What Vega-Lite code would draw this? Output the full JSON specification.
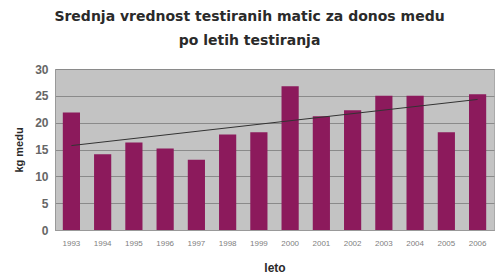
{
  "$schema": "https://vega.github.io/schema/vega-lite/v6.json",
  "width": 439,
  "height": 161,
  "autosize": {"type": "none"},
  "padding": {"left": 55, "top": 69, "right": 2, "bottom": 45},
  "background": "white",
  "title": {
    "text": ["Srednja vrednost testiranih matic za donos medu", "po letih testiranja"],
    "font": "DejaVu Sans",
    "fontSize": 14,
    "fontWeight": "bold",
    "color": "#2a2a2a",
    "lineHeight": 24,
    "anchor": "middle",
    "dx": -25,
    "offset": 15
  },
  "config": {
    "view": {"fill": "#c3c3c3", "stroke": "#aaaaaa"},
    "axis": {"labelFont": "Liberation Sans", "titleFont": "Liberation Sans"}
  },
  "data": {
    "values": [
      {"leto": 1993, "kg": 21.9},
      {"leto": 1994, "kg": 14.1},
      {"leto": 1995, "kg": 16.3},
      {"leto": 1996, "kg": 15.2},
      {"leto": 1997, "kg": 13.1},
      {"leto": 1998, "kg": 17.8},
      {"leto": 1999, "kg": 18.2},
      {"leto": 2000, "kg": 26.8},
      {"leto": 2001, "kg": 21.2},
      {"leto": 2002, "kg": 22.3},
      {"leto": 2003, "kg": 25.0},
      {"leto": 2004, "kg": 25.0},
      {"leto": 2005, "kg": 18.2},
      {"leto": 2006, "kg": 25.3}
    ]
  },
  "encoding": {
    "x": {
      "field": "leto", "type": "ordinal",
      "scale": {"paddingInner": 0.45, "paddingOuter": 0.25},
      "axis": {
        "title": "leto", "titleFontSize": 12, "titleFontWeight": "bold", "titleColor": "#2a2a2a",
        "titlePadding": 15,
        "labelAngle": 0, "labelFontSize": 8, "labelColor": "#808080", "labelPadding": 9,
        "ticks": false, "domainColor": "#999"
      }
    },
    "y": {
      "field": "kg", "type": "quantitative",
      "scale": {"domain": [0, 30]},
      "axis": {
        "title": "kg medu", "titleFontSize": 11, "titleFontWeight": "bold", "titleColor": "#2a2a2a",
        "titlePadding": 10,
        "values": [0, 5, 10, 15, 20, 25, 30],
        "labelFontSize": 12, "labelFontWeight": "bold", "labelColor": "#666", "labelPadding": 7,
        "labelOverlap": false,
        "ticks": false, "domainColor": "#999",
        "gridColor": "#8a8a8a", "gridWidth": 1
      }
    }
  },
  "layer": [
    {
      "mark": {"type": "bar", "color": "#8c1a5c"}
    },
    {
      "transform": [{"regression": "kg", "on": "leto"}],
      "mark": {"type": "line", "color": "#333", "strokeWidth": 1}
    }
  ]
}
